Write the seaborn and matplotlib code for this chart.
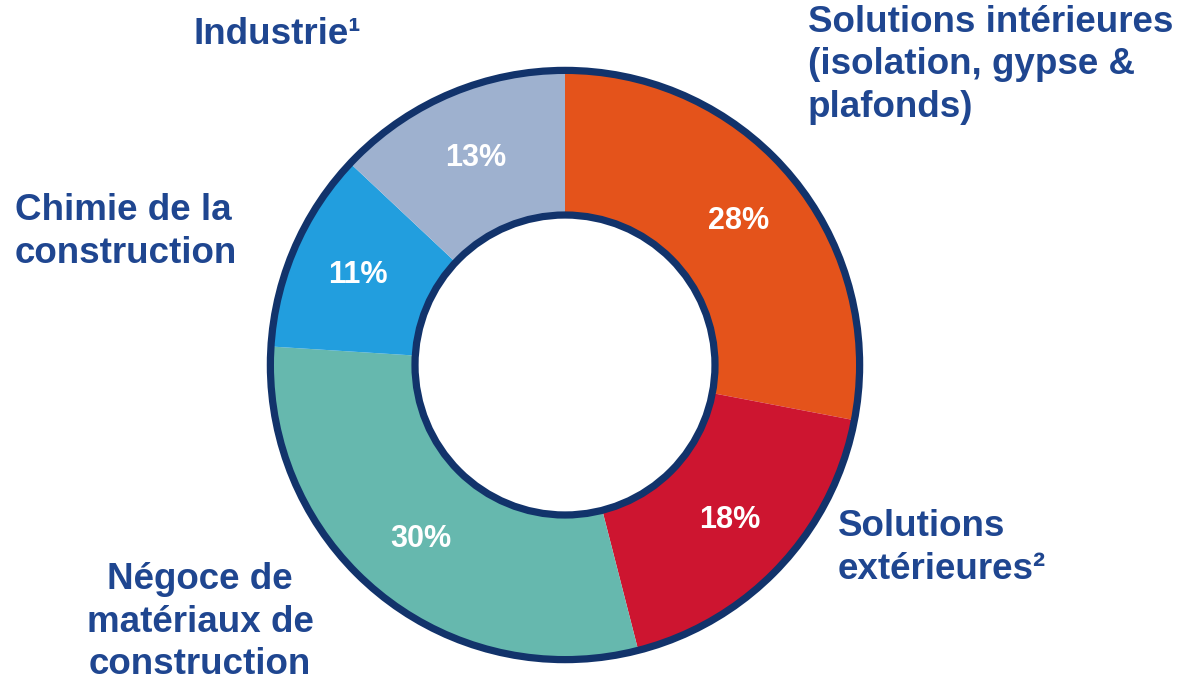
import seaborn as sns
import matplotlib.pyplot as plt
from matplotlib.patches import Circle

# donnees (sens horaire depuis midi)
segments = ["Solutions intérieures\n(isolation, gypse &\nplafonds)", "Solutions\nextérieures²",
            "Négoce de\nmatériaux de\nconstruction", "Chimie de la\nconstruction", "Industrie¹"]
parts = [28, 18, 30, 11, 13]
couleurs = ["#E4531B", "#CD1530", "#66B8AE", "#229EDE", "#9EB1CF"]

sns.set_theme(style="white")
plt.rcParams['font.family'] = ['Liberation Sans', 'DejaVu Sans']

navy = "#12336B"
txt = "#1F4690"

W, H = 1181, 685
fig = plt.figure(figsize=(W / 100, H / 100), dpi=100)
ax = fig.add_axes([0, 0, 1, 1])

trou = 0.495
wedges, _, autotexts = ax.pie(parts, colors=sns.color_palette(couleurs), startangle=90, counterclock=False,
                              radius=1, autopct='%d%%', pctdistance=0.76,
                              wedgeprops=dict(width=trou, linewidth=0),
                              textprops=dict(color='white', fontsize=22, fontweight='bold'))

# centre du donut (565, 365) px, rayon 297 px
R = 297
cx, cy = 565, 365
ax.set_xlim(-cx / R, (W - cx) / R)
ax.set_ylim(-(H - cy) / R, cy / R)
ax.set_aspect('equal', adjustable='datalim')
ax.axis('off')

# contours bleu marine
ax.add_patch(Circle((0, 0), 1 - 0.008, fill=False, ec=navy, lw=5.2))
ax.add_patch(Circle((0, 0), 1 - trou, fill=False, ec=navy, lw=5.2))

# etiquettes des segments (position en pixels)
positions = [(808, 65, 'left'), (838, 548, 'left'), (200, 622, 'center'), (15, 232, 'left'), (193, 35, 'left')]
for lab, (px, py, ha) in zip(segments, positions):
    fig.text(px / W, 1 - py / H, lab, ha=ha, va='center', multialignment=ha,
             fontsize=26.5, fontweight='bold', color=txt, linespacing=1.28)

plt.savefig("out.png", dpi=100)
